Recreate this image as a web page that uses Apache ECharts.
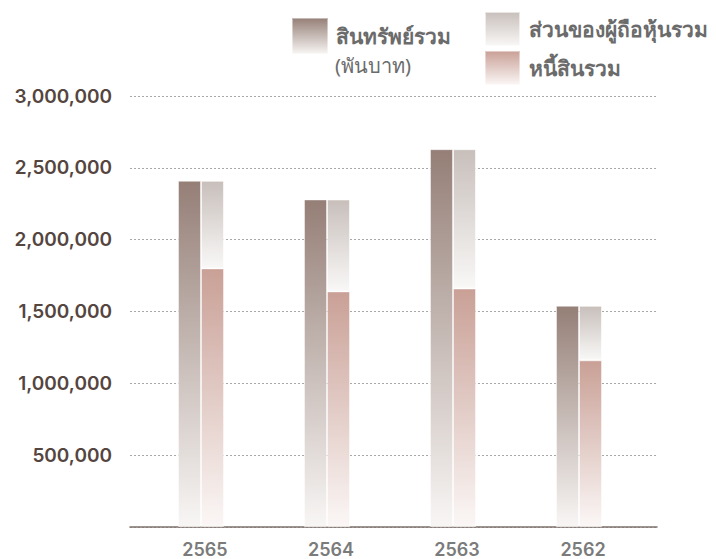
<!DOCTYPE html>
<html>
<head>
<meta charset="utf-8">
<script src="https://cdn.jsdelivr.net/npm/echarts@6/dist/echarts.min.js"></script>
<style>
    html, body {margin: 0; padding: 0; background: #fff;}
    #main {width: 716px; height: 559px;}
</style>
</head>
<body>
<div id="main"></div>
<script>
    /*ข้อมูล (พันบาท)*/
    var years = ['2565', '2564', '2563', '2562'];
    var totalAssets = [2410000, 2280000, 2630000, 1540000];
    var totalLiabilities = [1800000, 1640000, 1660000, 1160000];
    var totalEquity = [610000, 640000, 970000, 380000];
    var yTicks = [0, 500000, 1000000, 1500000, 2000000, 2500000, 3000000];

    var names = ['สินทรัพย์รวม', 'ส่วนของผู้ถือหุ้นรวม', 'หนี้สินรวม'];
    var unitText = '(พันบาท)';

    var numFont = 'Inter, "Noto Sans", sans-serif';
    var thaiFont = '"Noto Sans", sans-serif';

    /*ไล่สีจากบนลงล่าง*/
    function fade(top, bottom) {
        return new echarts.graphic.LinearGradient(0, 0, 0, 1, [
            {offset: 0, color: top},
            {offset: 1, color: bottom}
        ]);
    }

    var myChart = echarts.init(document.getElementById('main'), null, {renderer: 'svg'});
    var option = {
        animation: false,
        grid: [
            // เส้นตาราง + แกน
            {left: 130, right: 59, top: 96, bottom: 32},
            // แท่ง
            {left: 138, right: 74, top: 96, bottom: 32}
        ],
        legend: [
            {
                data: [names[0]],
                left: 291,
                top: 17,
                padding: 0,
                icon: 'rect',
                itemWidth: 36,
                itemHeight: 36,
                selectedMode: false,
                textStyle: {fontFamily: thaiFont, fontSize: 21, fontWeight: 'bold', color: '#6b6b6b', padding: [0, 0, 0, 3]}
            },
            {
                data: [names[1], names[2]],
                orient: 'vertical',
                left: 484,
                top: 11,
                padding: 0,
                icon: 'rect',
                itemWidth: 35,
                itemHeight: 34,
                itemGap: 3,
                selectedMode: false,
                textStyle: {fontFamily: thaiFont, fontSize: 21, fontWeight: 'bold', color: '#6b6b6b', padding: [0, 0, 0, 4]}
            }
        ],
        graphic: [
            {
                type: 'text',
                left: 335,
                top: 55,
                style: {text: unitText, font: '20px ' + thaiFont, fill: '#6b6b6b'}
            }
        ],
        xAxis: [
            {
                gridIndex: 0,
                type: 'value',
                min: 0,
                max: 1,
                axisLine: {show: true, lineStyle: {color: '#7d716b', width: 1.5}},
                axisTick: {show: false},
                axisLabel: {show: false},
                splitLine: {show: false}
            },
            {
                gridIndex: 1,
                type: 'category',
                data: years,
                axisLine: {show: false},
                axisTick: {show: false},
                axisLabel: {
                    margin: 13,
                    fontFamily: numFont,
                    fontSize: 18,
                    fontWeight: 600,
                    color: '#7b7b7b',
                    padding: [0, 0, 0, 8]
                }
            }
        ],
        yAxis: [
            {
                gridIndex: 0,
                type: 'value',
                min: yTicks[0],
                max: yTicks[yTicks.length - 1],
                interval: yTicks[1] - yTicks[0],
                axisLine: {show: false},
                axisTick: {show: false},
                axisLabel: {
                    margin: 18,
                    fontFamily: numFont,
                    fontSize: 19,
                    fontWeight: 600,
                    color: '#55453f',
                    formatter: function (v) {
                        if (v === 0) return '';
                        return echarts.format.addCommas(v);
                    }
                },
                splitLine: {
                    show: true,
                    lineStyle: {color: '#a8a8a8', type: [2, 2], width: 1}
                }
            },
            {
                gridIndex: 1,
                type: 'value',
                min: yTicks[0],
                max: yTicks[yTicks.length - 1],
                interval: yTicks[1] - yTicks[0],
                show: false
            }
        ],
        series: [
            {
                name: names[0],
                type: 'bar',
                xAxisIndex: 1,
                yAxisIndex: 1,
                barWidth: 23,
                barGap: '0%',
                data: totalAssets,
                itemStyle: {color: fade('#957f77', '#f8f6f5'), borderColor: 'rgba(255,255,255,0.45)', borderWidth: 1}
            },
            {
                name: names[2],
                type: 'bar',
                xAxisIndex: 1,
                yAxisIndex: 1,
                stack: 'total',
                barWidth: 23,
                barGap: '0%',
                data: totalLiabilities,
                itemStyle: {color: fade('#c9a096', '#fbf7f6'), borderColor: 'rgba(255,255,255,0.45)', borderWidth: 1}
            },
            {
                name: names[1],
                type: 'bar',
                xAxisIndex: 1,
                yAxisIndex: 1,
                stack: 'total',
                barWidth: 23,
                barGap: '0%',
                data: totalEquity,
                itemStyle: {color: fade('#c8bfbb', '#f9f8f7'), borderColor: 'rgba(255,255,255,0.6)', borderWidth: 1}
            }
        ]
    };
    myChart.setOption(option);
</script>
</body>
</html>
